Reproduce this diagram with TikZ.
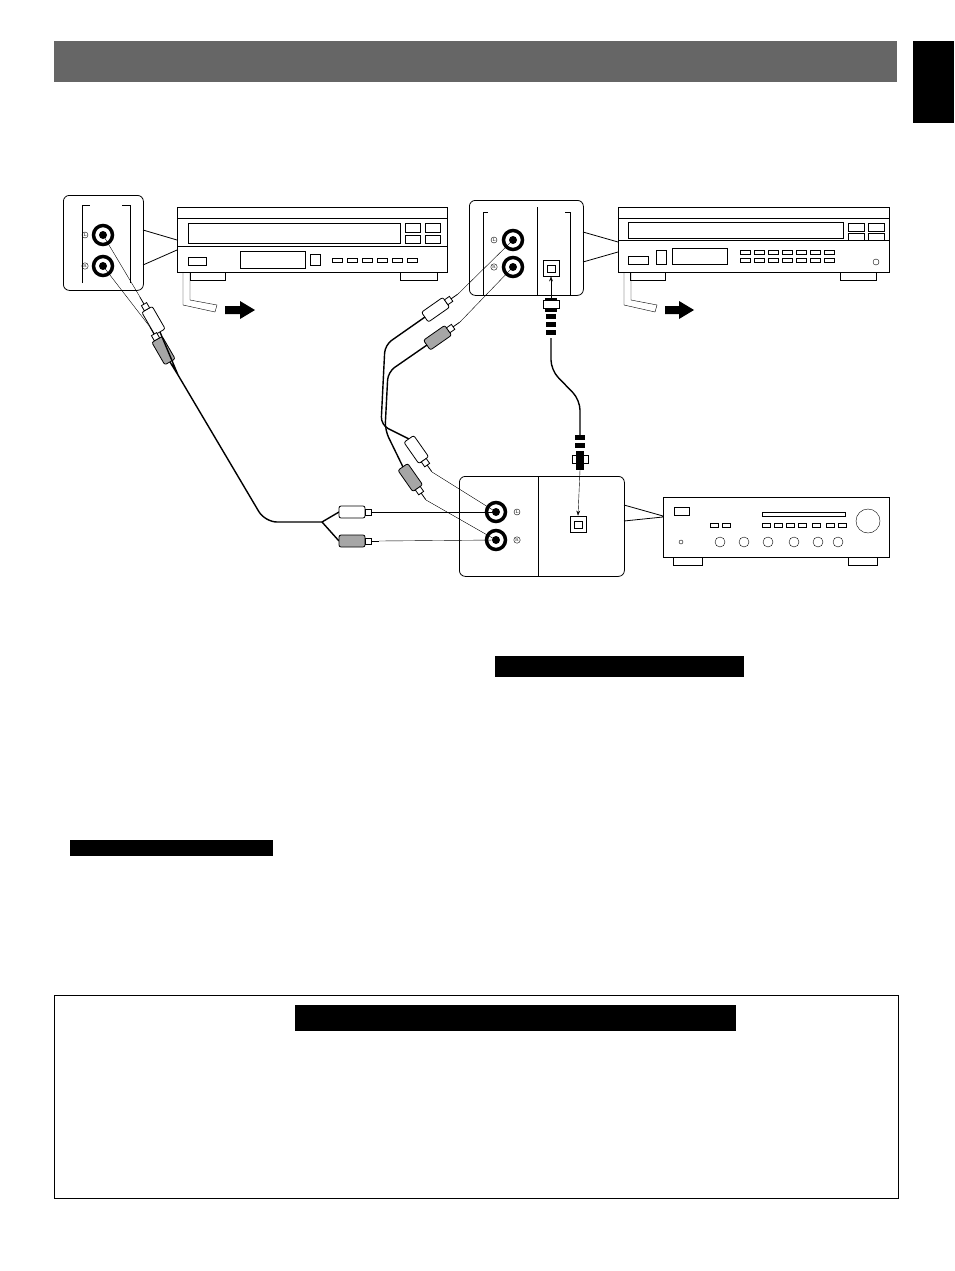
\documentclass[tikz,border=0pt]{standalone}
\usetikzlibrary{arrows.meta}
\usetikzlibrary{calc}
\usetikzlibrary{positioning}
\tikzset{
  unit/.style={draw, line width=1.2pt},
  inset/.style={draw, thick, rounded corners=6pt, fill=white},
  jack/.style={circle, draw, line width=3.5pt, inner sep=0pt, minimum size=19pt, fill=white},
  side/.style={circle, draw, inner sep=0.6pt, font=\fontsize{4}{4}\selectfont},
  cord/.style={line width=1.4pt},
  pin/.style={thin},
  bar/.style={fill=black},
  plugbody/.pic={\draw[fill=#1, thick, rounded corners=2pt] (-16,-6) rectangle (10,6);
                 \draw[thick, fill=white] (10,-3) rectangle (16,3);
                 \draw[thick] (16,0) -- (24,0);},
}
\begin{document}
\begin{tikzpicture}[x=1pt, y=-1pt]
\useasboundingbox (0,0) rectangle (954,1271);
% header
\fill[black!60] (54,41) rectangle (897,82);
\fill[black] (913,41) rectangle (954,123);

% first player
\node[unit, minimum width=270pt, minimum height=65pt, anchor=north west] (cdA) at (177,207) {};
\draw (177,218) -- (447,218) (177,246) -- (447,246);
\draw[thick] (188,223) rectangle (400,243);
\draw (405,223) rectangle (420,232) (425,223) rectangle (440,232) (405,235) rectangle (420,243) (425,235) rectangle (440,243);
\draw (188,257) rectangle (206,265) (240,251) rectangle (305,268) (310,254) rectangle (320,265);
\foreach \i in {0,...,5} \draw (332+\i*15,258) rectangle (342+\i*15,262);
\draw[thick] (190,272) rectangle (225,280) (400,272) rectangle (437,280);
\draw (183,272) -- (183,305) -- (215,312) -- (217,305) -- (190,300) -- (190,272);
\fill (225,306) -- (240,306) -- (240,301) -- (255,310) -- (240,319) -- (240,314) -- (225,314) -- cycle;
\node[inset, minimum width=80pt, minimum height=95pt, anchor=north west] (boxA) at (63,195) {};
\draw[thick] (143,230) -- (177,240) (143,265) -- (177,250);
\draw (82,283) -- (82,205) -- (90,205) (122,205) -- (130,205) -- (130,283);
\node[jack] (aL) at (103,235) {}; \node[jack] (aR) at (103,266) {};
\fill (aL) circle (4) (aR) circle (4);
\node[side] at (85,235) {L}; \node[side] at (85,266) {R};

% second player
\node[unit, minimum width=271pt, minimum height=65pt, anchor=north west] (cdB) at (618,207) {};
\draw (618,218) -- (889,218) (618,240) -- (889,240);
\draw[thick] (628,222) rectangle (843,238);
\draw (848,223) rectangle (864,231) (868,223) rectangle (884,231) (848,233) rectangle (864,240) (868,233) rectangle (884,240);
\draw (628,256) rectangle (648,264) (656,250) rectangle (666,264) (672,248) rectangle (727,264);
\foreach \i in {0,...,6} \draw (740+\i*14,250) rectangle (750+\i*14,254);
\foreach \i in {0,...,6} \draw (740+\i*14,258) rectangle (750+\i*14,262);
\draw (876,262) circle (3);
\draw[thick] (630,272) rectangle (665,280) (840,272) rectangle (876,280);
\draw (624,272) -- (624,305) -- (655,312) -- (657,305) -- (631,300) -- (631,272);
\fill (665,306) -- (679,306) -- (679,301) -- (694,310) -- (679,319) -- (679,314) -- (665,314) -- cycle;
\node[inset, minimum width=114pt, minimum height=95pt, anchor=north west] (boxB) at (469,200) {};
\draw[thick] (583,232) -- (618,242) (583,262) -- (618,252);
\draw (483,295) -- (483,212) -- (488,212) (537,207) -- (537,295) (565,212) -- (570,212) -- (570,295);
\node[jack] (bL) at (513,240) {}; \node[jack] (bR) at (513,267) {};
\fill (bL) circle (4) (bR) circle (4);
\node[side] at (494,240) {L}; \node[side] at (494,267) {R};
\node[draw, thick, minimum size=16pt, inner sep=0pt] (bOpt) at (551,268) {};
\draw (bOpt.center) ++(-4,-3) rectangle ++(8,7);

% amplifier
\node[unit, minimum width=226pt, minimum height=60pt, anchor=north west] (amp) at (663,497) {};
\draw (674,507) rectangle (689,515) (762,512) rectangle (845,516);
\foreach \x in {710,722,762,774,786,798,812,826,838} \draw (\x,523) rectangle (\x+8,527);
\draw (868,521) circle (12);
\draw (681,542) circle (2);
\foreach \x in {720,744,768,794,818,838} \draw (\x,542) circle (5);
\draw[thick] (673,557) rectangle (702,565) (848,557) rectangle (877,565);
\node[inset, minimum width=165pt, minimum height=100pt, anchor=north west] (boxC) at (459,476) {};
\draw[thick] (624,505) -- (663,516) (624,521) -- (663,517);
\draw (538,476) -- (538,576);
\node[jack] (cL) at (496,512) {}; \node[jack] (cR) at (496,540) {};
\fill (cL) circle (4) (cR) circle (4);
\node[side] at (517,512) {L}; \node[side] at (517,540) {R};
\node[draw, thick, minimum size=16pt, inner sep=0pt] (cOpt) at (578,524) {};
\draw (cOpt.center) ++(-4,-3) rectangle ++(8,7);

% cable 1
\pic[rotate=120] at (152,318) {plugbody=white};
\pic[rotate=120] at (162,348) {plugbody=gray!70};
\draw[pin] (140,297) -- (aL.center);
\draw[pin] (150,327) -- (aR.center);
\draw[cord] (160,332) -- (178,375) (170,362) -- (178,375);
\draw[cord, rounded corners=12pt] (178,375) -- (265,522) -- (322,522);
\draw[cord] (322,522) -- (339,512) (322,522) -- (339,541);
\pic at (355,512) {plugbody=white};
\pic at (355,541) {plugbody=gray!70};
\draw[pin] (379,512) -- (cL.center);
\draw[pin] (379,541) -- (cR.center);

% cable 2
\pic[rotate=35] at (438,308) {plugbody=white};
\pic[rotate=35] at (440,336) {plugbody=gray!70};
\draw[pin] (458,294) -- (bL.center);
\draw[pin] (460,322) -- (bR.center);
\draw[cord, rounded corners=8pt] (425,317) -- (385,345) -- (381,425) -- (409,439);
\draw[cord, rounded corners=8pt] (427,345) -- (388,372) -- (385,430) -- (403,467);
\pic[rotate=-55] at (418,452) {plugbody=white};
\pic[rotate=-55] at (412,480) {plugbody=gray!70};
\draw[pin] (432,472) -- (cL.center);
\draw[pin] (426,500) -- (cR.center);

% optical cable
\draw[-{Stealth[length=5pt]}] (551,298) -- (bOpt.south);
\fill[black] (545,298) rectangle (557,312);
\draw[thick, fill=white] (543,300) rectangle (559,308);
\foreach \y in {314,322,330} \fill (546,\y) rectangle (556,\y+5);
\draw[cord, rounded corners=10pt] (551,338) -- (551,370) -- (580,400) -- (580,435);
\foreach \y in {435,443} \fill (575,\y) rectangle (585,\y+5);
\draw[thick, fill=white] (572,455) rectangle (588,463);
\fill (576,451) rectangle (584,470);
\draw[-{Stealth[length=5pt]}] (580,470) -- (cOpt.north);

% text bars
\fill[bar] (495,656) rectangle (744,677);
\fill[bar] (70,840) rectangle (273,856);
\draw (54,995) rectangle (898,1198);
\fill[bar] (295,1005) rectangle (736,1031);
\end{tikzpicture}
\end{document}
